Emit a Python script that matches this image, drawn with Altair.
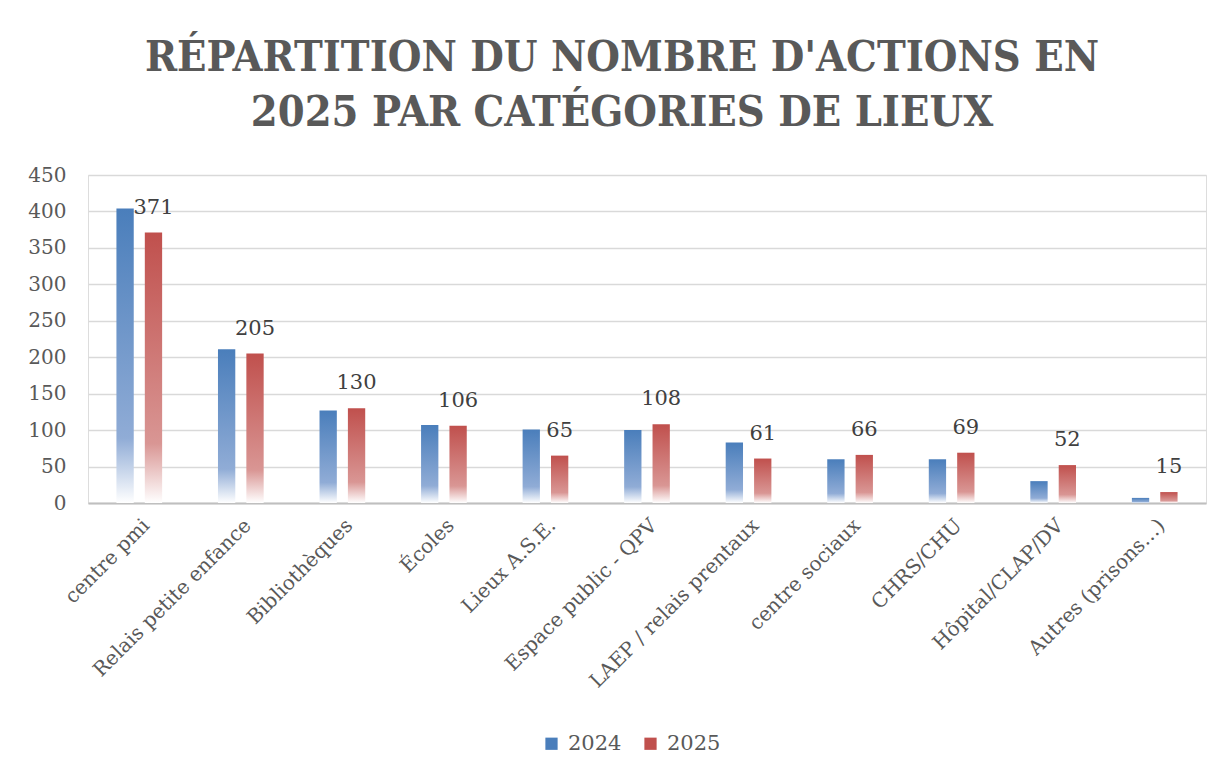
import altair as alt
import pandas as pd

categories = [
    "centre pmi", "Relais petite enfance", "Bibliothèques", "Écoles",
    "Lieux A.S.E.", "Espace public - QPV", "LAEP / relais prentaux",
    "centre sociaux", "CHRS/CHU", "Hôpital/CLAP/DV", "Autres (prisons…)",
]
values_2024 = [404, 211, 127, 107, 101, 100, 83, 60, 60, 30, 7]
values_2025 = [371, 205, 130, 106, 65, 108, 61, 66, 69, 52, 15]
years = ["2024", "2025"]
colors = ["#4a7ebb", "#c0504d"]
mid_colors = ["#90acd6", "#d99694"]
y_ticks = [0, 50, 100, 150, 200, 250, 300, 350, 400, 450]
title_lines = ["RÉPARTITION DU NOMBRE D'ACTIONS EN", "2025 PAR CATÉGORIES DE LIEUX"]

rows = []
for c, a, b in zip(categories, values_2024, values_2025):
    rows.append({"categorie": c, "annee": years[0], "valeur": a})
    rows.append({"categorie": c, "annee": years[1], "valeur": b})
df = pd.DataFrame(rows)

FONT = "DejaVu Serif"

x_enc = alt.X(
    "categorie:N", sort=categories,
    scale=alt.Scale(paddingInner=0.55, paddingOuter=0.28),
    axis=alt.Axis(
        title=None, labelAngle=-45, labelFontSize=20, labelColor="#595959",
        labelFont=FONT, labelPadding=12, ticks=False, domainColor="#bfbfbf",
        domainWidth=2, labelLimit=400, grid=False,
    ),
)
xoff_enc = alt.XOffset("annee:N", sort=years, scale=alt.Scale(paddingInner=0.39, paddingOuter=0))
y_enc = alt.Y(
    "valeur:Q",
    scale=alt.Scale(domain=[0, 450], nice=False),
    axis=alt.Axis(
        title=None, values=y_ticks, domain=False, ticks=False,
        labelFontSize=20, labelColor="#595959", labelFont=FONT, labelPadding=22,
        gridColor="#d9d9d9", gridWidth=1.5,
    ),
)


def grad(top, mid):
    return alt.Gradient(
        gradient="linear", x1=0, y1=0, x2=0, y2=1,
        stops=[
            alt.GradientStop(offset=0, color=top),
            alt.GradientStop(offset=0.78, color=mid),
            alt.GradientStop(offset=1, color="#ffffff"),
        ],
    )


base = alt.Chart(df)

bars = []
for yr, col, mid in zip(years, colors, mid_colors):
    bars.append(
        base.transform_filter(alt.datum.annee == yr)
        .mark_bar(color=grad(col, mid))
        .encode(x=x_enc, xOffset=xoff_enc, y=y_enc)
    )

legend_layer = base.mark_bar(opacity=0).encode(
    x=x_enc, xOffset=xoff_enc, y=y_enc,
    color=alt.Color(
        "annee:N", sort=years,
        scale=alt.Scale(domain=years, range=colors),
        legend=alt.Legend(
            title=None, orient="none", direction="horizontal",
            legendX=453, legendY=558, symbolType="square", symbolSize=150,
            symbolOpacity=1, symbolStrokeWidth=0, labelFontSize=21,
            labelFont=FONT, labelColor="#595959", columnPadding=18, labelOffset=6,
        ),
    ),
)

labels = (
    base.transform_filter(alt.datum.annee == years[1])
    .mark_text(dy=-25, fontSize=21, font=FONT, color="#404040", baseline="middle")
    .encode(x=x_enc, xOffset=xoff_enc, y=y_enc, text="valeur:Q")
)

chart = (
    alt.layer(*bars, legend_layer, labels)
    .properties(
        width=1118, height=328,
        autosize=alt.AutoSizeParams(type="none"),
        padding={"left": 88, "top": 175, "right": 26, "bottom": 272},
        title=alt.TitleParams(
            text=title_lines, font="DejaVu Serif Condensed", fontSize=43,
            fontWeight="bold", color="#595959", lineHeight=55, anchor="middle",
            dx=-25, offset=30,
        ),
    )
    .configure_view(strokeWidth=0, stroke="transparent")
    .configure(background="white")
)

chart.save("out.html", embed_options={"renderer": "svg", "actions": False})
